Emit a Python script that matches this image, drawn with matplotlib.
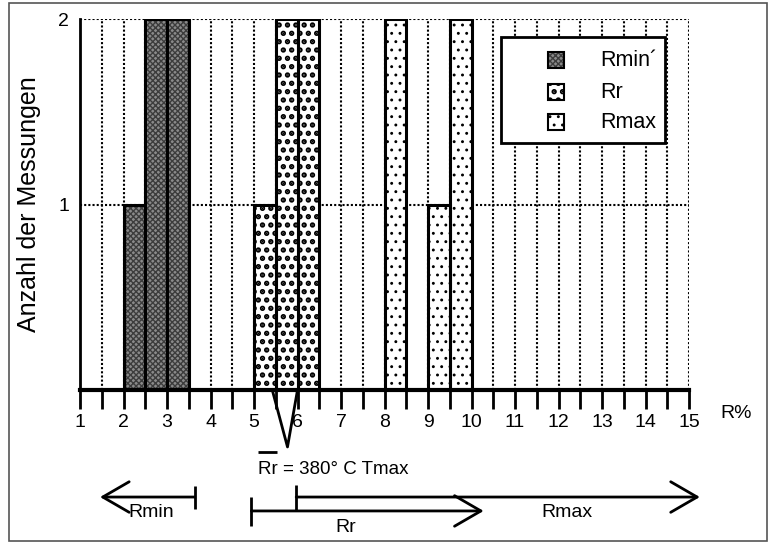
import matplotlib as mpl
import matplotlib.pyplot as plt
import matplotlib.patches as mpatches
import numpy as np

plt.rcParams['font.family'] = ['Liberation Sans', 'DejaVu Sans']

# Daten: linke Kante der Klasse (R%) und Anzahl der Messungen
rmin_x = [2.0, 2.5, 3.0]
rmin_n = [1, 2, 2]
rr_x = [5.0, 5.5, 6.0]
rr_n = [1, 2, 2]
rmax_x = [8.0, 9.0, 9.5]
rmax_n = [2, 1, 2]
labels = ['Rmin´', 'Rr', 'Rmax']
x_ticks = list(range(1, 16))
y_ticks = [1, 2]

# Füllmuster: (Farbe, Schraffur, Schraffur-Farbe, Schraffur-Linienbreite)
styles = [('#8a8a8a', 'xxxxxx', '#3c3c3c', 1.0),
          ('white', '..', 'black', 2.6),
          ('white', '..', 'black', 0.9)]

fig = plt.figure(figsize=(7.7, 5.44), dpi=100)
ax = fig.add_axes([80/770, 1-390/544, 609/770, 371/544])

# Rahmen um die ganze Abbildung
fig.patches.append(mpatches.Rectangle((9/770, 3/544), 758/770, 538/544,
                                      transform=fig.transFigure, fill=False,
                                      edgecolor='#555555', lw=1.2))

for (xs, ns), (fc, htch, hc, hlw) in zip([(rmin_x, rmin_n), (rr_x, rr_n), (rmax_x, rmax_n)], styles):
    with mpl.rc_context({'hatch.linewidth': hlw}):
        ax.bar(xs, ns, width=0.5, align='edge', facecolor=fc, edgecolor=hc,
               lw=0, hatch=htch, zorder=3)
    ax.bar(xs, ns, width=0.5, align='edge', fill=False, edgecolor='black',
           lw=2.2, zorder=3.5)

ax.set_xlim(1, 15)
ax.set_ylim(0, 2)

# Gitter
for gx in np.arange(1.5, 15.01, 0.5):
    ax.axvline(gx, color='black', lw=1.5, ls=(0, (1, 1)), zorder=1)
for gy in y_ticks:
    ax.axhline(gy, color='black', lw=1.5, ls=(0, (1, 1)), zorder=1)

for s in ['top', 'right']:
    ax.spines[s].set_visible(False)
ax.spines['left'].set_linewidth(2)
ax.spines['bottom'].set_linewidth(3)
ax.spines['bottom'].set_zorder(4)

ax.set_xticks(x_ticks)
ax.set_xticklabels([str(v) for v in x_ticks], fontsize=14)
ax.set_xticks(np.arange(1.5, 15, 1.0), minor=True)
ax.tick_params(axis='x', which='both', length=14, width=2, direction='out', pad=3)
ax.set_yticks(y_ticks)
ax.set_yticklabels([str(v) for v in y_ticks], fontsize=14)
ax.tick_params(axis='y', length=0, pad=8)
ax.set_ylabel('Anzahl der Messungen', fontsize=18)
ax.yaxis.set_label_coords(-0.064, 0.5)

ax.text(15.72, -0.08, 'R%', fontsize=14, ha='left', va='top')

# Legende von Hand
tr = ax.transAxes
def ax_xy(px, py):
    return ((px - 80) / 609, (390 - py) / 371)

x0, y0 = ax_xy(501, 143)
x1, y1 = ax_xy(665, 37)
ax.add_patch(mpatches.Rectangle((x0, y0), x1 - x0, y1 - y0, transform=tr,
                                facecolor='white', edgecolor='black', lw=2,
                                zorder=6))
for lab, (fc, htch, hc, hlw), py in zip(labels, styles, [60, 92, 122]):
    hx, hy = ax_xy(548, py + 8)
    hw = 16 / 609
    hh = 16 / 371
    with mpl.rc_context({'hatch.linewidth': hlw}):
        ax.add_patch(mpatches.Rectangle((hx, hy), hw, hh, transform=tr,
                                        facecolor=fc, edgecolor=hc, lw=0,
                                        hatch=htch, zorder=7))
    ax.add_patch(mpatches.Rectangle((hx, hy), hw, hh, transform=tr, fill=False,
                                    edgecolor='black', lw=1.5, zorder=7))
    tx, ty = ax_xy(600, py)
    ax.text(tx, ty, lab, transform=tr, fontsize=15.5, ha='left', va='center',
            zorder=8)

# Anmerkungen unter der Achse
kw = dict(color='black', lw=2, clip_on=False, solid_capstyle='butt')
ax.plot([5.42, 5.77, 6.0], [0, -0.307, 0], **kw)
ax.plot([5.1, 5.54], [-0.334, -0.334], **kw)
ax.text(5.1, -0.431, 'Rr = 380° C Tmax', fontsize=13.5, ha='left', va='center')

arr = dict(arrowstyle='->,head_length=0.95,head_width=0.55', lw=2,
           color='black', mutation_scale=20, shrinkA=0, shrinkB=0)
ax.annotate('', xy=(1.46, -0.577), xytext=(3.64, -0.577),
            arrowprops=arr, annotation_clip=False)
ax.plot([3.64, 3.64], [-0.518, -0.641], **kw)
ax.text(2.63, -0.658, 'Rmin', fontsize=14, ha='center', va='center')

ax.plot([4.94, 4.94], [-0.577, -0.733], **kw)
ax.annotate('', xy=(10.28, -0.652), xytext=(4.94, -0.652),
            arrowprops=arr, annotation_clip=False)
ax.text(7.10, -0.739, 'Rr', fontsize=14, ha='center', va='center')

ax.plot([5.97, 5.97], [-0.512, -0.652], **kw)
ax.annotate('', xy=(15.25, -0.577), xytext=(5.97, -0.577),
            arrowprops=arr, annotation_clip=False)
ax.text(12.19, -0.658, 'Rmax', fontsize=14, ha='center', va='center')

fig.savefig('out.png', dpi=100)
